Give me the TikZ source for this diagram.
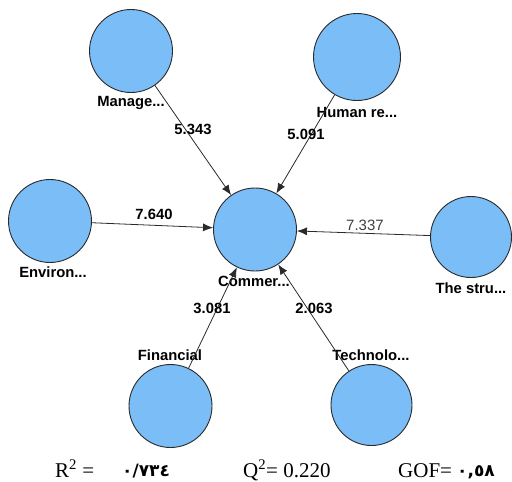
\documentclass[tikz,border=0pt]{standalone}
\usepackage{fontspec}
\setmainfont{Liberation Serif}
\setsansfont{Liberation Sans}
\newfontfamily\arabicfont[Script=Arabic]{DejaVu Sans}
\usepackage{tikz}
\usetikzlibrary{arrows.meta, positioning}
\definecolor{LvBlue}{HTML}{7ABDF7}
\definecolor{LvLine}{HTML}{2A2A2A}

\begin{document}
\begin{tikzpicture}[
    x=1pt, y=-1pt,
    lv/.style={circle, draw=LvLine, line width=0.9pt, fill=LvBlue, minimum size=83pt, inner sep=0pt},
    lvname/.style={font=\sffamily\bfseries\fontsize{14.8}{16}\selectfont, inner sep=0pt},
    tval/.style={font=\sffamily\bfseries\fontsize{14.8}{16}\selectfont, inner sep=0pt},
    fit/.style={font=\rmfamily\fontsize{21}{24}\selectfont, anchor=base west, inner sep=0pt},
    arab/.style={font=\arabicfont\bfseries\fontsize{17}{20}\selectfont, anchor=base west, inner sep=0pt},
    arrow/.style={-{Latex[length=10pt, width=8pt]}, line width=0.8pt, draw=LvLine}
  ]
    \useasboundingbox (0,0) rectangle (512,482);
    \node[lv] (man) at (131,51) {};
    \node[lv, minimum size=87pt] (hum) at (357,57) {};
    \node[lv] (env) at (50,221) {};
    \node[lv] (com) at (255,229.5) {};
    \node[lv, minimum size=81pt] (str) at (471,237) {};
    \node[lv] (fin) at (170.5,406) {};
    \node[lv, minimum size=81pt] (tec) at (371.5,405) {};
    \node[lvname] (manl) at (131,103) {Manage...};
    \node[lvname] (huml) at (357,112) {Human re...};
    \node[lvname] (envl) at (53,272) {Environ...};
    \node[lvname] (coml) at (254,281) {Commer...};
    \node[lvname] (strl) at (471,288) {The stru...};
    \node[lvname] (finl) at (170,355) {Financial};
    \node[lvname] (tecl) at (371,355) {Technolo...};
    \draw[arrow] (man) -- (com);
    \draw[arrow] (hum) -- (com);
    \draw[arrow] (env) -- (com);
    \draw[arrow] (str) -- (com);
    \draw[arrow] (fin) -- (com);
    \draw[arrow] (tec) -- (com);
    \node[tval] (tman) at (193,129) {5.343};
    \node[tval] (thum) at (306,134) {5.091};
    \node[tval] (tenv) at (154,214) {7.640};
    \node[tval, font=\sffamily\fontsize{15}{16}\selectfont, text=black!75] (tstr) at (365,225) {7.337};
    \node[tval] (tfin) at (212,308) {3.081};
    \node[tval] (ttec) at (314,308) {2.063};
    \node[fit] (rsq) at (55,477) {R\textsuperscript{2} =};
    \node[arab] (rval) at (122,476) {٠/٧٣٤};
    \node[fit] (qsq) at (243,477) {Q\textsuperscript{2}= 0.220};
    \node[fit] (gof) at (398,477) {GOF=};
    \node[arab] (gval) at (457,476) {٠,٥٨};
\end{tikzpicture}
\end{document}
